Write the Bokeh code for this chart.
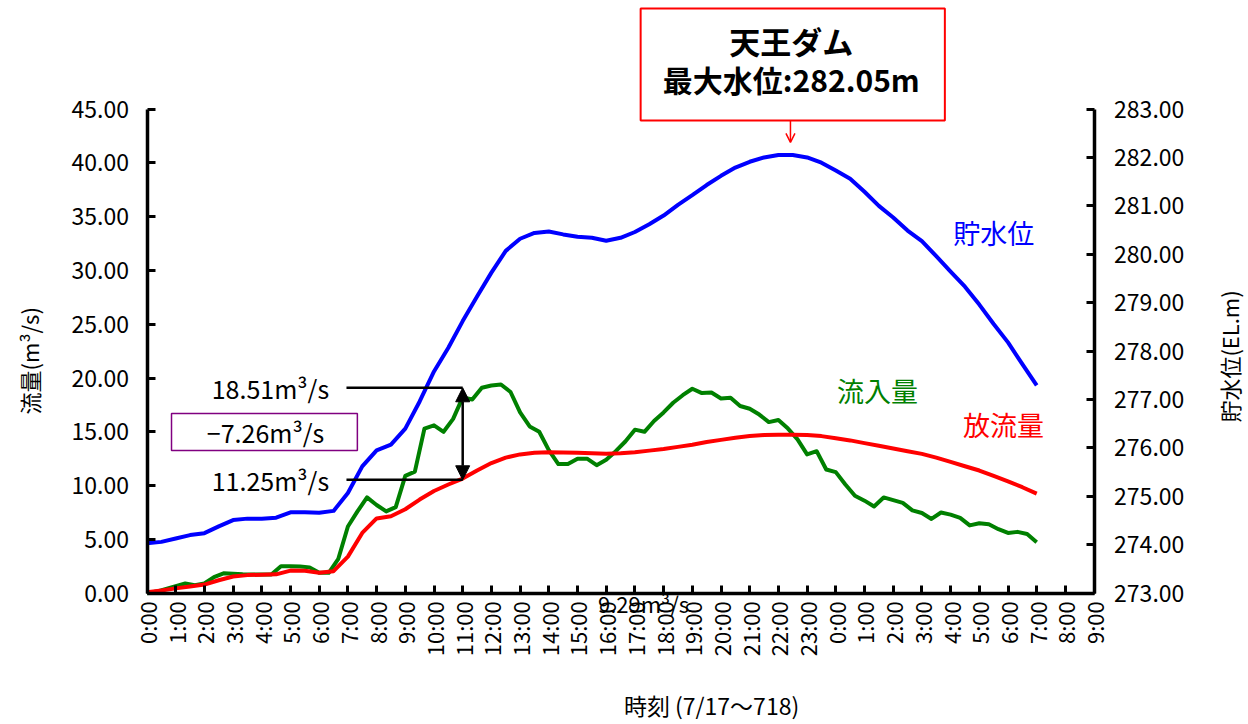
import numpy as np
from math import pi
from bokeh.plotting import figure
from bokeh.models import (Range1d, LinearAxis, FixedTicker, Label, Arrow,
                          NormalHead, OpenHead, NumeralTickFormatter)
from bokeh.embed import file_html
from bokeh.resources import INLINE

# ---------------- data ----------------
# hours from 7/17 0:00, half-hour steps (0 .. 31 h)
level_el = [274.03, 274.06, 274.13, 274.20, 274.24, 274.38, 274.51, 274.54, 274.54, 274.56,
            274.67, 274.67, 274.66, 274.70, 275.07, 275.62, 275.95, 276.07, 276.40, 276.96,
            277.58, 278.07, 278.62, 279.13, 279.62, 280.07, 280.32, 280.44, 280.47, 280.41,
            280.36, 280.34, 280.28, 280.34, 280.46, 280.62, 280.80, 281.02, 281.22, 281.43,
            281.62, 281.79, 281.91, 282.00, 282.05, 282.05, 282.00, 281.89, 281.73, 281.56,
            281.29, 281.00, 280.76, 280.49, 280.27, 279.96, 279.64, 279.33, 278.96, 278.56,
            278.18, 277.73, 277.29]
outflow = [0.10, 0.25, 0.45, 0.62, 0.80, 1.20, 1.55, 1.68, 1.72, 1.75,
           2.10, 2.08, 1.90, 2.05, 3.40, 5.60, 6.95, 7.15, 7.80, 8.70,
           9.50, 10.10, 10.65, 11.40, 12.10, 12.60, 12.90, 13.05, 13.10, 13.08,
           13.05, 13.00, 12.95, 13.00, 13.10, 13.25, 13.40, 13.60, 13.80, 14.05,
           14.25, 14.45, 14.60, 14.70, 14.72, 14.73, 14.70, 14.60, 14.40, 14.20,
           13.95, 13.70, 13.45, 13.20, 12.95, 12.60, 12.20, 11.80, 11.40, 10.90,
           10.40, 9.85, 9.25]
half_hours = [i * 0.5 for i in range(len(level_el))]

# inflow, 20-minute steps (0 .. 31 h)
inflow = [0.00, 0.15, 0.40, 0.65, 0.90, 0.75, 0.90, 1.50, 1.85, 1.80,
          1.75, 1.74, 1.74, 1.74, 2.50, 2.50, 2.48, 2.40, 1.90, 1.90,
          3.20, 6.20, 7.60, 8.90, 8.20, 7.60, 8.00, 10.90, 11.30, 15.30,
          15.60, 15.00, 16.20, 18.20, 18.00, 19.10, 19.30, 19.40, 18.70, 16.80,
          15.50, 15.00, 13.30, 12.00, 12.00, 12.50, 12.50, 11.90, 12.40, 13.20,
          14.10, 15.20, 15.00, 16.00, 16.80, 17.70, 18.40, 19.00, 18.60, 18.65,
          18.10, 18.16, 17.40, 17.14, 16.60, 15.90, 16.10, 15.30, 14.30, 12.90,
          13.20, 11.50, 11.25, 10.10, 9.05, 8.60, 8.06, 8.90, 8.65, 8.40,
          7.70, 7.45, 6.90, 7.50, 7.30, 7.00, 6.30, 6.50, 6.40, 5.95,
          5.60, 5.70, 5.50, 4.74]
third_hours = [i / 3.0 for i in range(len(inflow))]

tick_hours = list(range(0, 34))
tick_labels = [f"{h % 24}:00" for h in tick_hours]
flow_ticks = [0, 5, 10, 15, 20, 25, 30, 35, 40, 45]
level_ticks = [273, 274, 275, 276, 277, 278, 279, 280, 281, 282, 283]

# ---------------- figure ----------------
FONT = "Noto Sans CJK JP"
W, H = 1248, 724
PX_H = 28.7      # pixels per hour
PX_F = 10.76     # pixels per m3/s
X0, Y0 = 146.5, 592.7   # pixel position of (0:00, 0)
x_lo, x_hi = -X0 / PX_H, (W - X0) / PX_H
y_lo, y_hi = -(H - Y0) / PX_F, Y0 / PX_F

p = figure(width=W, height=H, output_backend="svg", toolbar_location=None,
           x_range=Range1d(x_lo, x_hi), y_range=Range1d(y_lo, y_hi),
           min_border_left=0, min_border_right=0, min_border_top=0,
           min_border_bottom=0)
p.outline_line_color = None
p.grid.visible = False
p.background_fill_color = "white"
p.border_fill_color = "white"

p.extra_y_ranges = {"level": Range1d(273 + y_lo / 4.5, 273 + y_hi / 4.5)}

def style_axis(ax):
    ax.axis_line_width = 3.5
    ax.axis_line_color = "black"
    ax.major_tick_line_width = 3
    ax.major_tick_in = 8
    ax.major_tick_out = 0
    ax.minor_tick_line_color = None
    ax.major_label_text_font = FONT
    ax.major_label_text_color = "black"

# bottom axis (drawn at flow = 0)
xa = p.xaxis[0]
style_axis(xa)
xa.fixed_location = 0
xa.bounds = (0, 33)
xa.ticker = FixedTicker(ticks=tick_hours)
xa.major_label_overrides = {h: lab for h, lab in zip(tick_hours, tick_labels)}
xa.major_label_orientation = pi / 2
xa.major_label_text_font_size = "22px"
xa.major_label_standoff = 8

# left axis (at 0:00)
ya = p.yaxis[0]
style_axis(ya)
ya.fixed_location = 0
ya.ticker = FixedTicker(ticks=flow_ticks)
ya.formatter = NumeralTickFormatter(format="0.00")
ya.bounds = (0, 45)
ya.major_label_text_font_size = "23px"
ya.major_label_standoff = 18

# right axis (at 9:00 next day)
ra = LinearAxis(y_range_name="level")
style_axis(ra)
ra.fixed_location = 33
ra.ticker = FixedTicker(ticks=level_ticks)
ra.formatter = NumeralTickFormatter(format="0.00")
ra.bounds = (273, 283)
ra.major_label_text_font_size = "23px"
ra.major_label_standoff = 20
p.add_layout(ra, "right")

# ---------------- series ----------------
p.line(half_hours, level_el, y_range_name="level", line_color="#0000FF",
       line_width=4, line_join="round")
p.line(third_hours, inflow, line_color="#008000", line_width=4, line_join="round")
p.line(half_hours, outflow, line_color="#FF0000", line_width=4, line_join="round")

# ---------------- annotations ----------------
def lab(x, y, text, size, color="black", bold=False, angle=0, align="center", level="annotation"):
    p.add_layout(Label(x=x, y=y, text=text, text_font=FONT, text_font_size=size,
                       text_color=color, text_align=align, text_baseline="middle",
                       angle=angle, text_font_style="bold" if bold else "normal",
                       level=level))

# series names
lab(29.5, 33.5, "貯水位", "27px", color="#0000FF")
lab(25.45, 18.8, "流入量", "27px", color="#008000")
lab(29.84, 15.68, "放流量", "27px", color="#FF0000")

# axis titles
lab(-4.1, 21.6, "流量(m³/s)", "22px", angle=pi / 2)
lab(37.7, 22.0, "貯水位(EL.m)", "22px", angle=pi / 2)
lab(19.67, -10.4, "時刻 (7/17～718)", "23px")

# flow difference annotation at 11:00
p.segment(x0=[6.95, 6.95], y0=[19.09, 10.54], x1=[11.0, 11.0], y1=[19.09, 10.54],
          line_color="black", line_width=2.5)
p.add_layout(Arrow(x_start=11.0, y_start=14.8, x_end=11.0, y_end=19.09,
                   line_color="black", line_width=2.5,
                   end=NormalHead(size=14, fill_color="black", line_color="black")))
p.add_layout(Arrow(x_start=11.0, y_start=14.8, x_end=11.0, y_end=10.54,
                   line_color="black", line_width=2.5,
                   end=NormalHead(size=14, fill_color="black", line_color="black")))
lab(4.3, 19.1, "18.51m³/s", "25px")
lab(4.3, 10.5, "11.25m³/s", "25px")
p.quad(left=[0.854], right=[7.33], bottom=[13.26], top=[16.70],
       fill_color="white", line_color="#800080", line_width=1.5)
lab(4.13, 15.0, "−7.26m³/s", "25px")
lab(17.3, -0.9, "9.29m³/s", "22px", level="underlay")

# max water level box
p.quad(left=[17.2], right=[27.8], bottom=[43.93], top=[54.34],
       fill_color="white", line_color="#FF0000", line_width=2)
lab(22.45, 51.4, "天王ダム", "31px", bold=True)
lab(22.45, 47.8, "最大水位:282.05m", "30px", bold=True)
p.add_layout(Arrow(x_start=22.42, y_start=43.93, x_end=22.42, y_end=41.9,
                   line_color="#FF0000", line_width=1.5,
                   end=OpenHead(size=9, line_color="#FF0000", line_width=1.5)))

open("out.html", "w").write(file_html(p, INLINE))
